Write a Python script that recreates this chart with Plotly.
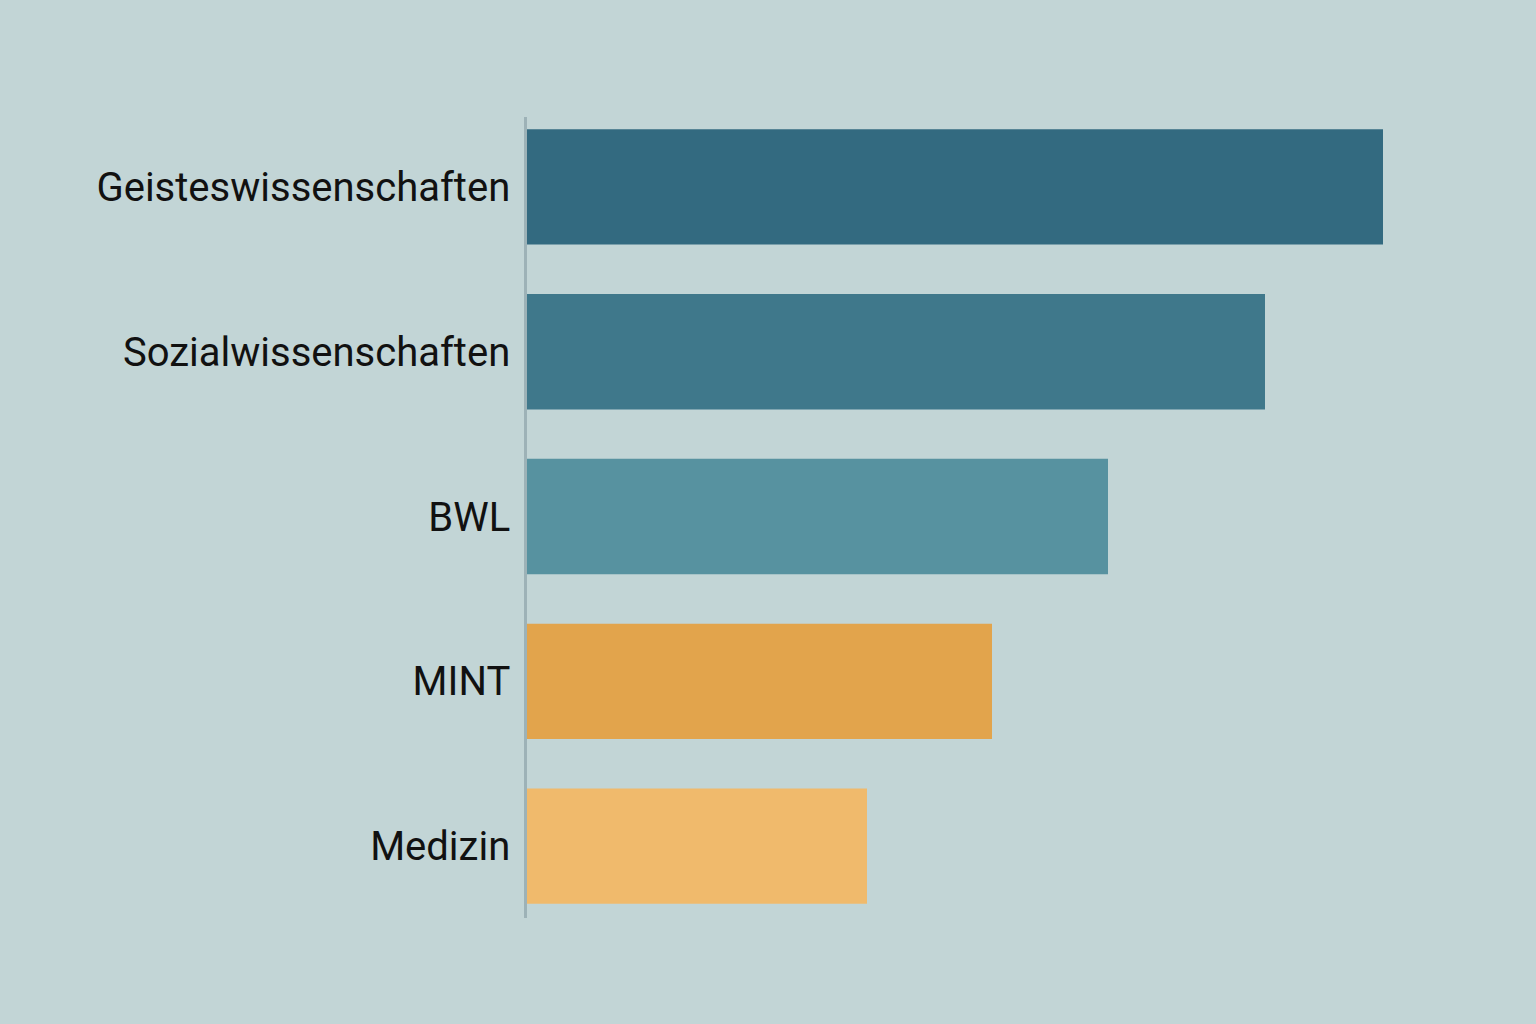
import plotly.graph_objects as go

categories = ["Geisteswissenschaften", "Sozialwissenschaften", "BWL", "MINT", "Medizin"]
values = [42.8, 36.9, 29.05, 23.25, 17.0]
colors = ["#336A80", "#3F788B", "#5792A0", "#E2A44C", "#F0BA6C"]

fig = go.Figure(go.Bar(
    x=values, y=categories, orientation="h",
    marker=dict(color=colors, line=dict(width=0)),
    width=0.7, hoverinfo="skip",
))

bg = "#C2D5D6"
fig.update_layout(
    width=1536, height=1024,
    paper_bgcolor=bg, plot_bgcolor=bg,
    margin=dict(l=527, r=39, t=117, b=106),
    showlegend=False,
    font=dict(family="Roboto", size=40, color="#111111"),
    xaxis=dict(range=[0, 48.5], showgrid=False, zeroline=False,
               showticklabels=False, showline=False, fixedrange=True),
    yaxis=dict(range=[4.436, -0.424], showgrid=False, zeroline=False,
               showline=True, linecolor="#9DB2B7", linewidth=2.5,
               ticks="", ticklabelstandoff=6, fixedrange=True),
)

fig.write_html("out.html", config={"displayModeBar": False},
               post_script="document.body.style.margin='0';document.body.style.background='#C2D5D6';")
